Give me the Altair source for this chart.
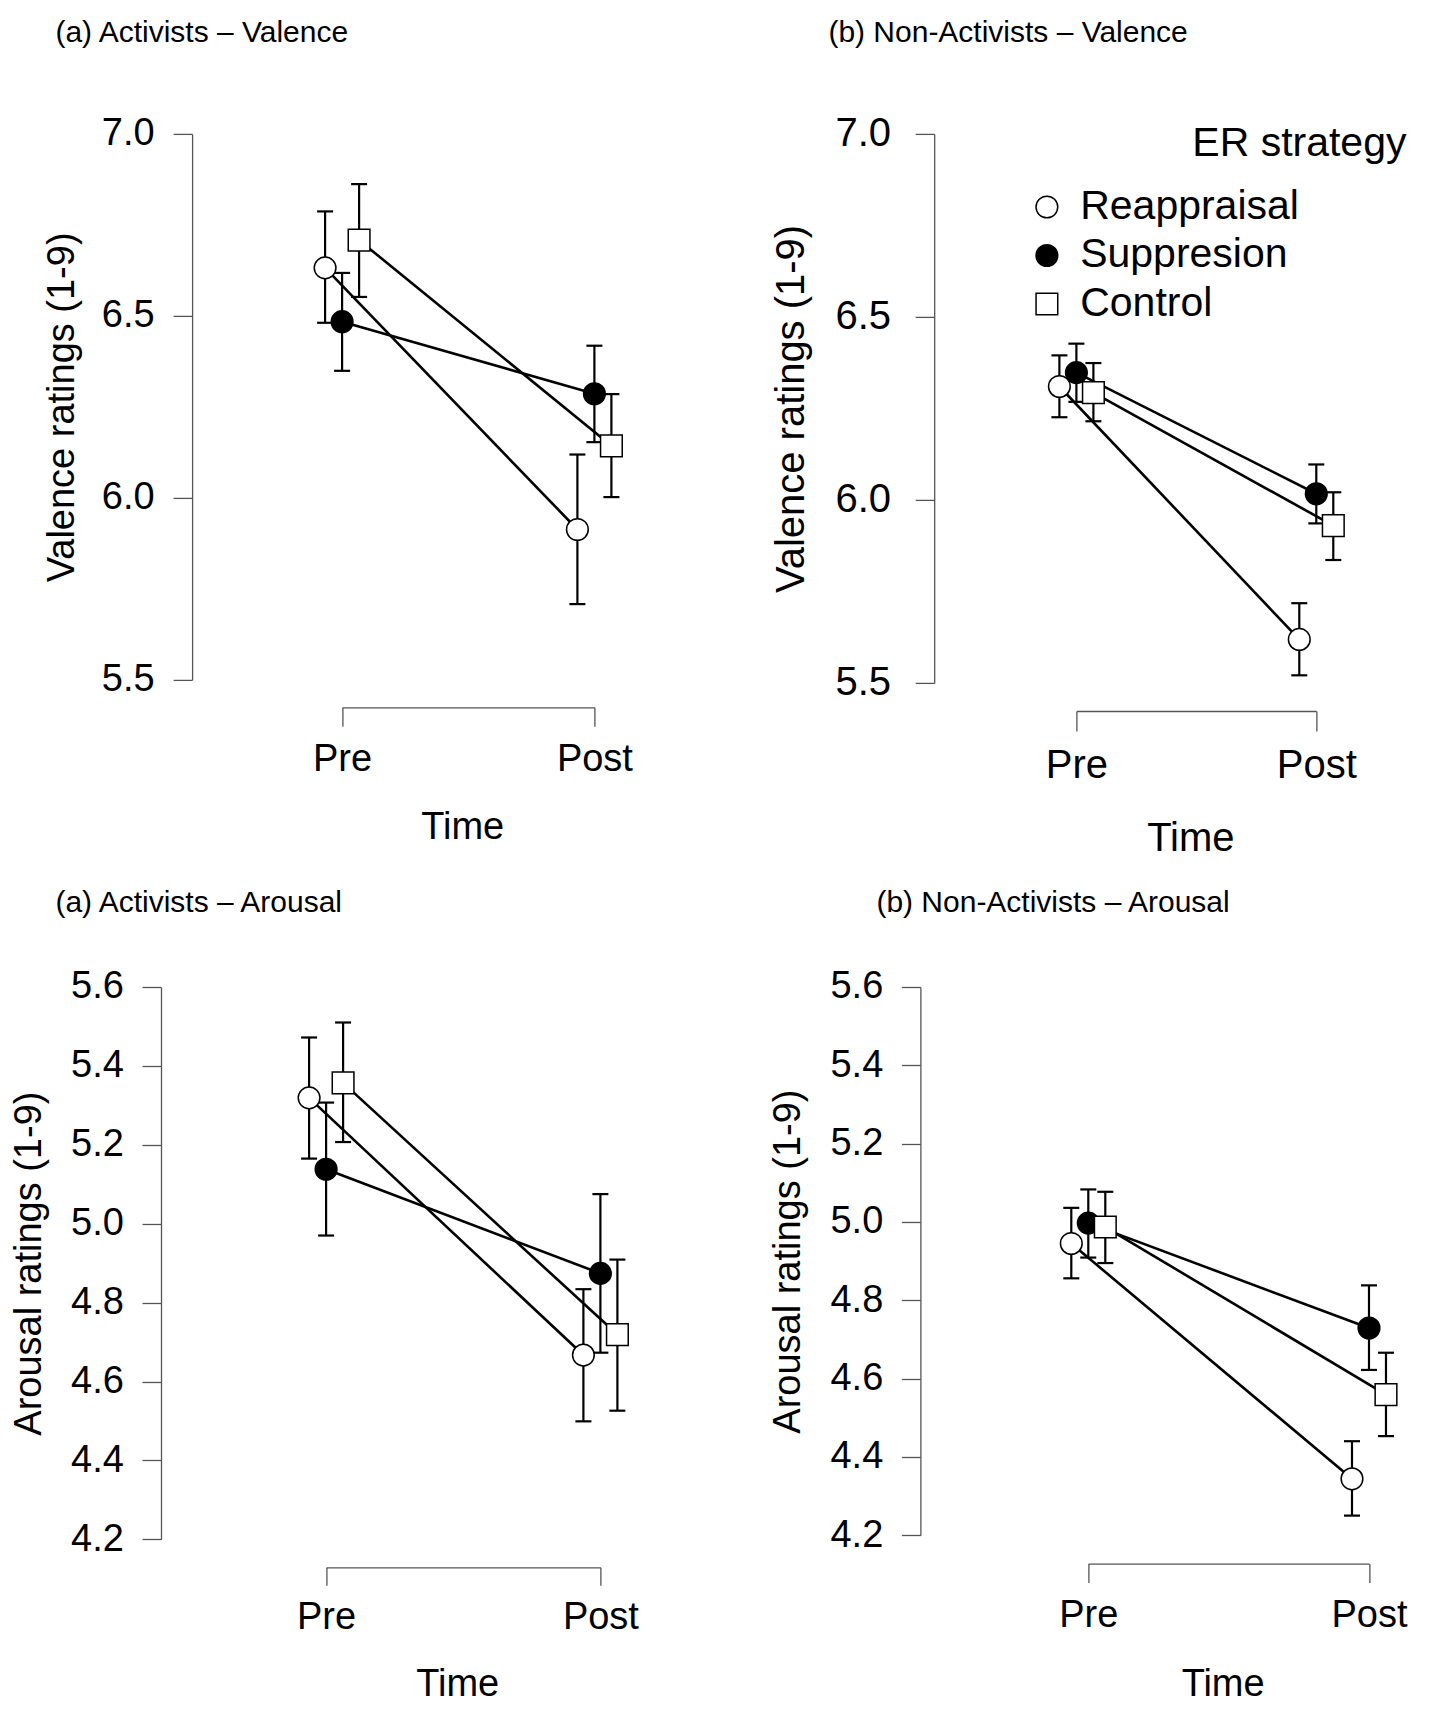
import altair as alt
import pandas as pd

strategies = ["Reappraisal", "Suppresion", "Control"]
times = ["Pre", "Post"]

# (a) Activists - Valence  (order: Reappraisal, Suppresion, Control)
a_val_pre = [6.632, 6.484, 6.708]
a_val_post = [5.913, 6.286, 6.143]
a_val_pre_lo = [6.481, 6.349, 6.552]
a_val_pre_hi = [6.787, 6.618, 6.862]
a_val_post_lo = [5.708, 6.153, 6.002]
a_val_post_hi = [6.119, 6.418, 6.285]

# (b) Non-Activists - Valence
n_val_pre = [6.310, 6.348, 6.293]
n_val_post = [5.619, 6.017, 5.930]
n_val_pre_lo = [6.226, 6.268, 6.215]
n_val_pre_hi = [6.395, 6.427, 6.374]
n_val_post_lo = [5.521, 5.936, 5.836]
n_val_post_hi = [5.718, 6.097, 6.021]

# (a) Activists - Arousal
a_aro_pre = [5.319, 5.138, 5.357]
a_aro_post = [4.667, 4.874, 4.719]
a_aro_pre_lo = [5.165, 4.970, 5.207]
a_aro_pre_hi = [5.472, 5.307, 5.510]
a_aro_post_lo = [4.499, 4.673, 4.526]
a_aro_post_hi = [4.834, 5.075, 4.909]

# (b) Non-Activists - Arousal
n_aro_pre = [4.945, 4.997, 4.987]
n_aro_post = [4.344, 4.729, 4.559]
n_aro_pre_lo = [4.856, 4.909, 4.895]
n_aro_pre_hi = [5.036, 5.083, 5.077]
n_aro_post_lo = [4.250, 4.622, 4.453]
n_aro_post_hi = [4.440, 4.838, 4.666]

val_ticks = [5.5, 6.0, 6.5, 7.0]
aro_ticks = [4.2, 4.4, 4.6, 4.8, 5.0, 5.2, 5.4, 5.6]

FONT = "Liberation Sans"
AXC = "#555555"
LPAD = 12


def make_df(pre, post, pre_lo, pre_hi, post_lo, post_hi):
    rows = []
    for i, s in enumerate(strategies):
        rows.append({"time": "Pre", "strategy": s, "mean": pre[i], "lo": pre_lo[i], "hi": pre_hi[i]})
        rows.append({"time": "Post", "strategy": s, "mean": post[i], "lo": post_lo[i], "hi": post_hi[i]})
    return pd.DataFrame(rows)


legend = alt.Legend(
    title="ER strategy", orient="none", legendX=726 - LPAD, legendY=-9.4 - LPAD,
    titleFontSize=41, labelFontSize=41, titleFontWeight="normal",
    titleFont=FONT, labelFont=FONT, titleColor="black", labelColor="black",
    labelLimit=600, titleLimit=600,
    symbolSize=470, symbolStrokeWidth=1.5, symbolStrokeColor="black",
    labelOffset=12.8, rowPadding=6.5, titlePadding=21,
    titleAnchor="end", titleAlign="center", padding=LPAD,
)


def panel(df, title, ydom, yticks, ylabel, p):
    r0, r1 = p["xrange"]
    x = alt.X(
        "time:N", sort=times,
        scale=alt.Scale(type="point", domain=times, range=p["xrange"], padding=0),
        axis=alt.Axis(
            title="Time", orient="bottom", offset=p["xoff"], tickSize=p["xtick"],
            labelPadding=p["xlp"], titlePadding=p["xtp"], labelFontSize=p["fs"],
            titleFontSize=p["fs"], labelAngle=0, domainColor=AXC, tickColor=AXC,
            domainWidth=1.3, tickWidth=1.3, grid=False, titleFontWeight="normal",
            labelColor="black", titleColor="black", labelFont=FONT, titleFont=FONT,
            titleX=(r0 + r1) / 2 - 6,
        ),
    )
    xo = alt.XOffset(
        "strategy:N", sort=strategies,
        scale=alt.Scale(type="point", domain=strategies, range=[-p["dodge"], p["dodge"]], padding=0),
    )
    yaxis = alt.Axis(
        values=yticks, format=".1f", title=ylabel, offset=p["yoff"], tickSize=19,
        labelPadding=p["ylp"], titlePadding=p["ytp"], labelFontSize=p["fs"],
        titleFontSize=p["fs"], domainColor=AXC, tickColor=AXC, domainWidth=1.3,
        tickWidth=1.3, grid=False, titleFontWeight="normal", labelColor="black",
        titleColor="black", labelFont=FONT, titleFont=FONT,
    )
    yscale = alt.Scale(domain=ydom, nice=False, zero=False)

    def Y(field):
        return alt.Y(field + ":Q", scale=yscale, axis=yaxis, title=ylabel)

    base = alt.Chart(df)
    lines = base.mark_line(color="black", strokeWidth=2.6).encode(
        x=x, xOffset=xo, y=Y("mean"), detail="strategy:N"
    )
    bars = base.mark_rule(color="black", strokeWidth=2.2).encode(
        x=x, xOffset=xo, y=Y("lo"), y2="hi:Q"
    )
    cap_lo = base.mark_tick(color="black", orient="horizontal", size=16, thickness=2.2, opacity=1).encode(
        x=x, xOffset=xo, y=Y("lo")
    )
    cap_hi = base.mark_tick(color="black", orient="horizontal", size=16, thickness=2.2, opacity=1).encode(
        x=x, xOffset=xo, y=Y("hi")
    )
    pts = base.mark_point(size=470, strokeWidth=1.5, opacity=1, fillOpacity=1).encode(
        x=x, xOffset=xo, y=Y("mean"),
        shape=alt.Shape("strategy:N", sort=strategies,
                        scale=alt.Scale(domain=strategies, range=["circle", "circle", "square"]),
                        legend=legend),
        fill=alt.Fill("strategy:N", sort=strategies,
                      scale=alt.Scale(domain=strategies, range=["white", "black", "white"]),
                      legend=legend),
        stroke=alt.Stroke("strategy:N", sort=strategies,
                          scale=alt.Scale(domain=strategies, range=["black", "black", "black"]),
                          legend=legend),
    )
    return alt.layer(lines, bars, cap_lo, cap_hi, pts).properties(
        width=p["width"], height=p["height"],
        title=alt.TitleParams(
            title, anchor="start", frame="group", dx=p["tdx"], offset=p["toff"],
            fontSize=30, fontWeight="normal", font=FONT, color="black",
        ),
    )


pA = dict(width=330, height=545.9, xrange=[41.7, 294], dodge=17, yoff=108.3, ylp=19, ytp=19.5,
          fs=38, xoff=27.5, xtick=19, xlp=13.8, xtp=30, tdx=-245, toff=67)
pB = dict(width=480, height=549.1, xrange=[136, 375.9], dodge=16, yoff=6.2, ylp=24.6, ytp=23.2,
          fs=40, xoff=28, xtick=20, xlp=15, xtp=33, tdx=-112, toff=66)
pC = dict(width=330, height=552.3, xrange=[25.7, 300], dodge=18.5, yoff=139.4, ylp=18.6, ytp=21.8,
          fs=38, xoff=28, xtick=18, xlp=13, xtp=29, tdx=-245, toff=49.5)
pD = dict(width=480, height=548.2, xrange=[162.9, 443.6], dodge=19, yoff=5, ylp=18.6, ytp=22.2,
          fs=38, xoff=28.4, xtick=19, xlp=14.4, xtp=30.3, tdx=-49, toff=49.5)

A = panel(make_df(a_val_pre, a_val_post, a_val_pre_lo, a_val_pre_hi, a_val_post_lo, a_val_post_hi),
          "(a) Activists \u2013 Valence", [5.5, 7.0], val_ticks, "Valence ratings (1-9)", pA)
B = panel(make_df(n_val_pre, n_val_post, n_val_pre_lo, n_val_pre_hi, n_val_post_lo, n_val_post_hi),
          "(b) Non-Activists \u2013 Valence", [5.5, 7.0], val_ticks, "Valence ratings (1-9)", pB)
C = panel(make_df(a_aro_pre, a_aro_post, a_aro_pre_lo, a_aro_pre_hi, a_aro_post_lo, a_aro_post_hi),
          "(a) Activists \u2013 Arousal", [4.2, 5.6], aro_ticks, "Arousal ratings (1-9)", pC)
D = panel(make_df(n_aro_pre, n_aro_post, n_aro_pre_lo, n_aro_pre_hi, n_aro_post_lo, n_aro_post_hi),
          "(b) Non-Activists \u2013 Arousal", [4.2, 5.6], aro_ticks, "Arousal ratings (1-9)", pD)

row1 = alt.hconcat(A, B, spacing=310, bounds="flush")
row2 = alt.hconcat(C, D, spacing=295, bounds="flush")

# nested rows count as zero height in flush layout, so spacing includes row 1 plot height
chart = alt.vconcat(row1, row2, spacing=853.1, bounds="flush").properties(
    padding={"left": 2.4, "top": 9.9, "right": 0, "bottom": 0},
    background="white",
).configure(font=FONT).configure_view(stroke=None)

chart.save("out.html", embed_options={"renderer": "svg", "actions": False})
